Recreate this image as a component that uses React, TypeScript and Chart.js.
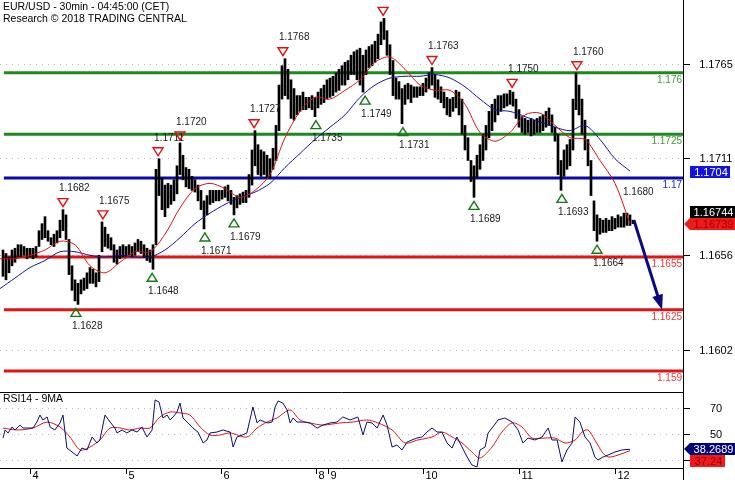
import React, { useEffect, useRef } from "react";
import { Chart, registerables } from "chart.js";
Chart.register(...registerables);

const FONT = '"Liberation Sans", Arial, Helvetica, sans-serif';

// ---- scale ranges ----
const X_MAX = 683 / 3;
const Y_MIN = 1.157807;
const Y_MAX = 1.180148;
const RSI_MIN = 23.85;
const RSI_MAX = 82.31;

// ---- price bars (30-min, sampled), bar k sits at index k+1 ----
const barHigh = [
  1.1659,1.1657,1.1655,1.1659,1.1660,1.1662,1.1662,1.1661,1.1660,1.1660,
  1.1660,1.1661,1.1670,1.1674,1.1678,1.1670,1.1666,1.1668,1.1670,1.1676,
  1.1682,1.1679,1.1665,1.1650,1.1642,1.1640,1.1642,1.1643,1.1646,1.1649,
  1.1648,1.1646,1.1656,1.1675,1.1672,1.1668,1.1666,1.1662,1.1659,1.1661,
  1.1662,1.1661,1.1662,1.1661,1.1663,1.1665,1.1664,1.1662,1.1660,1.1659,
  1.1662,1.1705,1.1711,1.1700,1.1696,1.1697,1.1696,1.1699,1.1707,1.1720,
  1.1713,1.1706,1.1705,1.1701,1.1699,1.1696,1.1693,1.1687,1.1690,1.1693,
  1.1693,1.1693,1.1693,1.1693,1.1695,1.1696,1.1693,1.1689,1.1690,1.1691,
  1.1692,1.1693,1.1702,1.1716,1.1727,1.1719,1.1716,1.1715,1.1713,1.1711,
  1.1717,1.1730,1.1753,1.1764,1.1768,1.1762,1.1756,1.1751,1.1747,1.1747,
  1.1749,1.1746,1.1746,1.1747,1.1746,1.1749,1.1751,1.1753,1.1756,1.1757,
  1.1758,1.1760,1.1762,1.1764,1.1766,1.1767,1.1770,1.1772,1.1773,1.1774,
  1.1770,1.1773,1.1775,1.1776,1.1778,1.1782,1.1789,1.1791,1.1784,1.1776,
  1.1767,1.1757,1.1755,1.1751,1.1753,1.1754,1.1753,1.1752,1.1752,1.1752,
  1.1754,1.1757,1.1760,1.1763,1.1759,1.1756,1.1752,1.1749,1.1746,1.1745,
  1.1746,1.1750,1.1749,1.1745,1.1730,1.1723,1.1710,1.1707,1.1713,1.1719,
  1.1725,1.1730,1.1738,1.1742,1.1745,1.1747,1.1747,1.1748,1.1748,1.1750,
  1.1749,1.1745,1.1739,1.1735,1.1734,1.1733,1.1734,1.1733,1.1734,1.1735,
  1.1736,1.1738,1.1740,1.1736,1.1729,1.1725,1.1710,1.1716,1.1719,1.1722,
  1.1745,1.1760,1.1753,1.1745,1.1733,1.1722,1.1710,1.1687,1.1679,1.1677,
  1.1676,1.1677,1.1676,1.1678,1.1677,1.1679,1.1678,1.1680,1.1680,1.1679,1.1676,
];
const barLow = [
  1.1644,1.1642,1.1646,1.1650,1.1652,1.1655,1.1655,1.1656,1.1654,1.1655,
  1.1654,1.1655,1.1661,1.1665,1.1666,1.1664,1.1662,1.1661,1.1663,1.1666,
  1.1670,1.1665,1.1645,1.1636,1.1630,1.1628,1.1634,1.1636,1.1637,1.1640,
  1.1640,1.1638,1.1641,1.1658,1.1661,1.1660,1.1659,1.1652,1.1651,1.1654,
  1.1655,1.1655,1.1656,1.1655,1.1656,1.1658,1.1657,1.1655,1.1653,1.1652,
  1.1648,1.1662,1.1690,1.1682,1.1678,1.1683,1.1685,1.1687,1.1691,1.1702,
  1.1699,1.1695,1.1694,1.1693,1.1692,1.1687,1.1682,1.1671,1.1679,1.1685,
  1.1686,1.1687,1.1687,1.1688,1.1689,1.1687,1.1685,1.1679,1.1683,1.1685,
  1.1686,1.1686,1.1689,1.1696,1.1707,1.1702,1.1701,1.1702,1.1700,1.1700,
  1.1705,1.1710,1.1727,1.1745,1.1747,1.1745,1.1734,1.1733,1.1736,1.1738,
  1.1739,1.1739,1.1740,1.1739,1.1735,1.1740,1.1742,1.1743,1.1745,1.1746,
  1.1747,1.1749,1.1750,1.1753,1.1753,1.1756,1.1759,1.1759,1.1756,1.1753,
  1.1749,1.1759,1.1763,1.1764,1.1766,1.1768,1.1776,1.1779,1.1770,1.1759,
  1.1747,1.1745,1.1745,1.1731,1.1742,1.1745,1.1743,1.1746,1.1746,1.1747,
  1.1747,1.1749,1.1751,1.1753,1.1746,1.1745,1.1743,1.1740,1.1736,1.1735,
  1.1738,1.1740,1.1736,1.1725,1.1716,1.1710,1.1698,1.1689,1.1700,1.1705,
  1.1710,1.1716,1.1723,1.1727,1.1732,1.1736,1.1738,1.1740,1.1741,1.1742,
  1.1741,1.1734,1.1729,1.1726,1.1725,1.1726,1.1724,1.1725,1.1726,1.1726,
  1.1727,1.1729,1.1730,1.1726,1.1721,1.1702,1.1693,1.1701,1.1705,1.1707,
  1.1716,1.1739,1.1736,1.1725,1.1716,1.1707,1.1690,1.1670,1.1664,1.1668,
  1.1669,1.1669,1.1670,1.1670,1.1671,1.1672,1.1672,1.1672,1.1673,1.1673,1.1674,
];

// ---- moving averages, one value every 5 bars ----
const MA_STEP = 5;
const maRed = [
  1.1654,1.1654,1.1656,1.1659,1.1664,1.1662,1.1650,1.1646,1.1652,1.1658,
  1.1658,1.1668,1.1683,1.1694,1.1697,1.1694,1.1689,1.1693,1.1702,1.1723,
  1.1738,1.1746,1.1745,1.1750,1.1756,1.1766,1.1769,1.1762,1.1753,1.1750,
  1.1750,1.1742,1.1726,1.1721,1.1726,1.1736,1.1737,1.1730,1.1723,1.1722,
  1.1710,1.1697,1.1674,
];
const maBlue = [
  1.1637,1.1643,1.1649,1.1653,1.1658,1.1658,1.1656,1.1655,1.1656,1.1655,
  1.1655,1.1659,1.1666,1.1674,1.1680,1.1685,1.1689,1.1692,1.1697,1.1706,
  1.1714,1.1722,1.1729,1.1736,1.1746,1.1753,1.1757,1.1758,1.1758,1.1759,
  1.1757,1.1752,1.1745,1.1739,1.1738,1.1735,1.1732,1.1729,1.1727,1.1730,
  1.1722,1.1711,1.1704,
];

// ---- RSI(14) and its 9-period MA ----
const rsiX = [
  1,1.7,2.7,4,5,6.7,7.7,9.3,11,12.3,13.3,14.3,15.7,16.7,18.3,20,21,22.3,24,25.7,
  27.3,29,30.7,32.3,33.3,35,36.7,38.3,39,40.7,42.3,44,45.7,47.3,49,50.7,51.7,53,54.3,55.7,
  56.7,57.7,59,60,61,62.7,64.3,66,67.7,69,70,72.3,74.3,76.7,77.7,79,80.7,82.3,84.3,85.7,
  86.7,88.3,89.3,90.7,91.7,92.7,94.3,95.7,96.7,97.7,99,101,103.3,105.7,107.7,110,112.3,114.3,116.7,119.3,
  121,122.3,124,125.7,127.7,129,130.7,132.3,134,135.7,137.3,139,140.7,142.3,144,145.7,147.3,149,150.7,152.3,
  154,155.7,157.3,159,160,161.7,162.7,164.3,166,168.3,170.7,172.7,174.3,176,178.3,180.7,182.7,184,185.7,187.3,
  189,190.7,191.7,193.3,195,196.7,198.3,199.3,201,202.7,205,207.3,210,
];
const rsiV = [
  46.9,53.1,50.8,55.4,53.1,56.9,54.6,54.6,54.6,59.2,64.6,60.8,63.1,55.4,53.1,58.5,64.6,39.2,36.2,33.1,
  39.2,37.7,47.7,43.1,45.4,64.6,59.2,54.6,50.8,53.1,50.8,53.1,51.5,55.4,47.7,53.1,76.2,74.6,62.3,64.6,
  60.8,63.1,66.9,73.8,62.3,58.5,54.6,51.5,43.1,45.4,50.8,51.5,53.1,51.5,40.0,47.7,49.2,50.8,70.8,58.5,
  60.8,59.2,58.5,59.2,70.8,75.4,73.8,68.5,58.5,62.3,59.2,59.2,58.5,54.6,56.9,58.5,59.2,63.1,60.8,63.1,
  49.2,59.2,58.5,54.6,64.6,56.9,40.0,41.5,37.7,43.8,45.4,46.9,47.7,51.5,54.6,51.5,51.5,43.1,39.2,47.7,
  40.0,32.3,26.2,24.6,37.7,40.0,50.8,55.4,60.8,62.3,59.2,53.1,43.1,46.9,45.4,47.7,54.6,45.4,45.4,28.5,
  37.7,43.1,63.1,59.2,47.7,43.1,32.3,30.0,32.3,33.8,36.2,37.7,38.27,
];
const rsiMaX = [
  1,5.7,11,15.7,20,23.3,26.7,30,33.3,36.7,40,43.3,46.7,50,53.3,56.7,60,63.3,66.7,70,
  73.3,76.7,82.3,85.7,89,92.3,96.7,100,103.3,107.7,113.3,117.7,122.3,126,130.7,135,139.3,144,147.3,150.7,
  154,157.3,160,164,167.3,170.7,174,177.3,181.7,185,188.3,191.7,194,196,198.3,200.7,202.7,206,210,
];
const rsiMaV = [
  54.6,53.1,54.6,59.2,55.4,47.7,37.7,40.0,45.4,54.6,54.6,53.1,54.6,54.6,63.1,66.9,66.2,64.6,55.4,49.2,
  49.2,50.8,47.7,54.6,59.2,62.3,68.5,60.8,58.5,56.9,58.5,59.2,60.8,58.5,53.1,43.1,45.4,47.7,51.5,47.7,
  43.1,36.2,31.5,40.0,51.5,58.5,55.4,46.9,46.9,46.9,43.1,45.4,51.5,53.1,45.4,36.2,32.3,33.8,37.24,
];

// ---- support / resistance levels ----
const levelVals = [1.176, 1.1725, 1.17, 1.1655, 1.1625, 1.159];
const levelLabels = ["1.176", "1.1725", "1.17", "1.1655", "1.1625", "1.159"];
const levelStart = 1.3;
const levelLineColors = ["#1c8a1c", "#1c8a1c", "#0b0ba6", "#e01414", "#e01414", "#e01414"];
const levelTextColors = ["#3f9a3f", "#3f9a3f", "#2424d0", "#e03c3c", "#e03c3c", "#e03c3c"];

// ---- turning-point annotations ----
const annIdx = [21, 34.3, 52.7, 60, 84.7, 94.3, 127.7, 144, 170.7, 192.3, 209, 25.3, 50.7, 68.3, 78, 105.3, 121.7, 134.3, 158, 187.3, 199];
const annPrice = [1.1682, 1.1675, 1.1711, 1.172, 1.1727, 1.1768, 1.1791, 1.1763, 1.175, 1.176, 1.168, 1.1628, 1.1648, 1.1671, 1.1679, 1.1735, 1.1749, 1.1731, 1.1689, 1.1693, 1.1664];
const annKind = ["H","H","H","H","H","H","H","H","H","H","T","L","L","L","L","L","L","L","L","L","L"];

// ---- projection arrow ----
const arrowX = [211.3, 220.7];
const arrowY = [1.1676, 1.1625];

// ---- axes ----
const yTicks = [1.1765, 1.1711, 1.1656, 1.1602];
const yTickLabels = ["1.1765", "1.1711", "1.1656", "1.1602"];
const rsiTicks = [70, 50, 30];
const rsiTickLabels = ["70", "50", "30"];
const dayIdx = [10, 42, 73.7, 105.3, 109.3, 141, 173, 205];
const dayLabels = ["4", "5", "6", "8", "9", "10", "11", "12"];

// ---- last-value tags ----
const tagMaBlue = 1.1704;
const tagClose = 1.16744;
const tagMaRed = 1.16739;
const tagRsi = 38.2689;
const tagRsiMa = 37.24;

function drawTag(ctx: CanvasRenderingContext2D, yc: number, text: string, bg: string, fg: string, arrow: boolean, w: number) {
  const x0 = 690, h = 12;
  const top = Math.round(yc - h / 2);
  ctx.fillStyle = bg;
  ctx.fillRect(x0, top, w, h);
  if (arrow) {
    ctx.beginPath();
    ctx.moveTo(684, top + h / 2);
    ctx.lineTo(x0, top);
    ctx.lineTo(x0, top + h);
    ctx.closePath();
    ctx.fill();
  }
  ctx.fillStyle = fg;
  ctx.font = `11px ${FONT}`;
  ctx.textAlign = "center";
  ctx.textBaseline = "middle";
  ctx.fillText(text, x0 + w / 2 + 1, top + h / 2 + 0.5);
}

const mainDeco = {
  id: "mainDeco",
  afterDatasetsDraw(chart: any) {
    const { ctx, chartArea: ca, scales } = chart;
    const xs = scales.x, ys = scales.y;
    ctx.save();
    ctx.font = `10px ${FONT}`;
    ctx.textBaseline = "middle";
    ctx.textAlign = "right";
    levelVals.forEach((v, i) => {
      ctx.fillStyle = levelTextColors[i];
      ctx.fillText(levelLabels[i], ca.right - 1, ys.getPixelForValue(v) + 7.5);
    });
    ctx.textAlign = "left";
    ctx.lineWidth = 1.4;
    annIdx.forEach((xi, i) => {
      const px = xs.getPixelForValue(xi);
      const py = ys.getPixelForValue(annPrice[i]);
      const kind = annKind[i];
      const label = annPrice[i].toFixed(4);
      ctx.fillStyle = "#1a1a1a";
      if (kind === "L") {
        const cy = py + 8;
        ctx.strokeStyle = "#137a13";
        ctx.beginPath();
        ctx.moveTo(px, cy - 4);
        ctx.lineTo(px + 5, cy + 4);
        ctx.lineTo(px - 5, cy + 4);
        ctx.closePath();
        ctx.stroke();
        ctx.fillText(label, px - 4, cy + 14);
      } else {
        const cy = py - 7;
        if (kind === "H") {
          ctx.strokeStyle = "#e01010";
          ctx.beginPath();
          ctx.moveTo(px - 5, cy - 4);
          ctx.lineTo(px + 5, cy - 4);
          ctx.lineTo(px, cy + 4);
          ctx.closePath();
          ctx.stroke();
        }
        ctx.fillText(label, px - 4, cy - 14);
      }
    });
    const x0 = xs.getPixelForValue(arrowX[0]), y0 = ys.getPixelForValue(arrowY[0]);
    const x1 = xs.getPixelForValue(arrowX[1]), y1 = ys.getPixelForValue(arrowY[1]);
    const len = Math.hypot(x1 - x0, y1 - y0);
    const ux = (x1 - x0) / len, uy = (y1 - y0) / len;
    const hl = 15, hw = 5.5;
    ctx.strokeStyle = "#0a0a7e";
    ctx.fillStyle = "#0a0a7e";
    ctx.lineWidth = 3;
    ctx.beginPath();
    ctx.moveTo(x0, y0);
    ctx.lineTo(x1 - ux * (hl - 2), y1 - uy * (hl - 2));
    ctx.stroke();
    ctx.beginPath();
    ctx.moveTo(x1, y1);
    ctx.lineTo(x1 - ux * hl - uy * hw, y1 - uy * hl + ux * hw);
    ctx.lineTo(x1 - ux * hl + uy * hw, y1 - uy * hl - ux * hw);
    ctx.closePath();
    ctx.fill();
    ctx.restore();
  },
  afterDraw(chart: any) {
    const { ctx, scales } = chart;
    const ys = scales.y;
    ctx.save();
    ctx.font = `11px ${FONT}`;
    ctx.fillStyle = "#000";
    ctx.textAlign = "center";
    ctx.textBaseline = "middle";
    yTicks.forEach((v, i) => ctx.fillText(yTickLabels[i], 716, ys.getPixelForValue(v) + 0.5));
    drawTag(ctx, ys.getPixelForValue(tagMaBlue) + 1, tagMaBlue.toFixed(4), "#1212e6", "#ffffff", false, 40);
    const yr = ys.getPixelForValue(tagMaRed);
    drawTag(ctx, yr - 12, tagClose.toFixed(5), "#000000", "#ffffff", false, 45);
    drawTag(ctx, yr, tagMaRed.toFixed(5), "#f01a1a", "#9a0000", true, 45);
    ctx.font = `10.5px ${FONT}`;
    ctx.fillStyle = "#000";
    ctx.textAlign = "left";
    ctx.fillText("EUR/USD - 30min - 04:45:00 (CET)", 3, 7);
    ctx.fillText("Research \u00A9 2018 TRADING CENTRAL", 3, 19);
    ctx.restore();
  },
};

const rsiDeco = {
  id: "rsiDeco",
  afterDraw(chart: any) {
    const { ctx, chartArea: ca, scales, height } = chart;
    const xs = scales.x, ys = scales.y;
    ctx.save();
    ctx.strokeStyle = "#000";
    ctx.lineWidth = 1;
    ctx.beginPath();
    ctx.moveTo(0, ca.top + 0.5); ctx.lineTo(ca.right, ca.top + 0.5);
    ctx.moveTo(0, ca.bottom + 0.5); ctx.lineTo(ca.right, ca.bottom + 0.5);
    ctx.moveTo(ca.right + 0.5, 0); ctx.lineTo(ca.right + 0.5, height);
    ctx.stroke();
    ctx.font = `11px ${FONT}`;
    ctx.fillStyle = "#000";
    ctx.textBaseline = "middle";
    ctx.textAlign = "left";
    dayIdx.forEach((d, i) => {
      const px = Math.round(xs.getPixelForValue(d)) + 0.5;
      ctx.beginPath();
      ctx.moveTo(px, ca.bottom + 1);
      ctx.lineTo(px, ca.bottom + 6);
      ctx.stroke();
      ctx.fillText(dayLabels[i], px + 2, ca.bottom + 7.5);
    });
    ctx.textAlign = "center";
    rsiTicks.forEach((v, i) => ctx.fillText(rsiTickLabels[i], 716, ys.getPixelForValue(v) + 0.5));
    ctx.font = `10.5px ${FONT}`;
    ctx.textAlign = "left";
    ctx.fillText("RSI14 - 9MA", 3, ca.top + 7);
    const yb = ys.getPixelForValue(tagRsi);
    drawTag(ctx, yb, tagRsi.toFixed(4), "#00007a", "#ffffff", true, 45);
    drawTag(ctx, yb + 12, tagRsiMa.toFixed(2), "#f01a1a", "#9a0000", false, 35);
    ctx.restore();
  },
};

function mainConfig(): any {
  const datasets: any[] = [];
  datasets.push({
    type: "bar",
    data: barHigh.map((h, i) => ({ x: i + 1, y: [barLow[i], h] })),
    backgroundColor: "#000000",
    borderWidth: 0,
    barThickness: 2,
    order: 3,
  });
  levelVals.forEach((v, i) => {
    datasets.push({
      type: "line",
      data: [{ x: levelStart, y: v }, { x: X_MAX, y: v }],
      borderColor: levelLineColors[i],
      borderWidth: 3,
      pointRadius: 0,
      order: 4,
    });
  });
  datasets.push({
    type: "line",
    data: maBlue.map((v, i) => ({ x: i * MA_STEP, y: v })),
    borderColor: "#12129a",
    borderWidth: 1,
    pointRadius: 0,
    tension: 0.3,
    order: 1,
  });
  datasets.push({
    type: "line",
    data: maRed.map((v, i) => ({ x: i * MA_STEP, y: v })),
    borderColor: "#d41414",
    borderWidth: 1,
    pointRadius: 0,
    tension: 0.3,
    order: 0,
  });
  return {
    type: "line",
    data: { datasets },
    options: {
      responsive: false,
      animation: false,
      devicePixelRatio: 1,
      layout: { padding: 0 },
      events: [],
      plugins: { legend: { display: false }, tooltip: { enabled: false } },
      scales: {
        x: { type: "linear", min: 0, max: X_MAX, display: false, offset: false, grid: { offset: false } },
        y: {
          type: "linear",
          position: "right",
          min: Y_MIN,
          max: Y_MAX,
          afterFit: (s: any) => { s.width = 52; },
          afterBuildTicks: (s: any) => { s.ticks = yTicks.map((v) => ({ value: v })); },
          ticks: { display: false },
          grid: { color: "#b8b8b8", lineWidth: 1, drawTicks: true, tickLength: 7, tickColor: "#000", tickWidth: 1 },
          border: { display: true, color: "#000", width: 1, dash: [1, 5] },
        },
      },
    },
    plugins: [mainDeco],
  };
}

function rsiConfig(): any {
  return {
    type: "line",
    data: {
      datasets: [
        {
          data: rsiMaX.map((x, i) => ({ x, y: rsiMaV[i] })),
          borderColor: "#d41818",
          borderWidth: 1,
          pointRadius: 0,
          tension: 0.3,
          order: 1,
        },
        {
          data: rsiX.map((x, i) => ({ x, y: rsiV[i] })),
          borderColor: "#0c0c6e",
          borderWidth: 1,
          pointRadius: 0,
          tension: 0,
          order: 0,
        },
      ],
    },
    options: {
      responsive: false,
      animation: false,
      devicePixelRatio: 1,
      layout: { padding: { top: 0, bottom: 12, left: 0, right: 0 } },
      events: [],
      plugins: { legend: { display: false }, tooltip: { enabled: false } },
      scales: {
        x: { type: "linear", min: 0, max: X_MAX, display: false, offset: false },
        y: {
          type: "linear",
          position: "right",
          min: RSI_MIN,
          max: RSI_MAX,
          afterFit: (s: any) => { s.width = 52; },
          afterBuildTicks: (s: any) => { s.ticks = rsiTicks.map((v) => ({ value: v })); },
          ticks: { display: false },
          grid: { color: "#b8b8b8", lineWidth: 1, drawTicks: true, tickLength: 7, tickColor: "#000", tickWidth: 1 },
          border: { display: true, color: "#000", width: 1, dash: [1, 5] },
        },
      },
    },
    plugins: [rsiDeco],
  };
}

export default function App() {
  const mainRef = useRef<HTMLCanvasElement>(null);
  const rsiRef = useRef<HTMLCanvasElement>(null);
  useEffect(() => {
    const c1 = new Chart(mainRef.current as HTMLCanvasElement, mainConfig());
    const c2 = new Chart(rsiRef.current as HTMLCanvasElement, rsiConfig());
    return () => {
      c1.destroy();
      c2.destroy();
    };
  }, []);
  return (
    <div style={{ position: "absolute", left: 0, top: 0, width: 735, height: 480, background: "#ffffff" }}>
      <canvas ref={mainRef} width={735} height={392} style={{ position: "absolute", left: 0, top: 0 }} />
      <canvas ref={rsiRef} width={735} height={88} style={{ position: "absolute", left: 0, top: 392 }} />
    </div>
  );
}
